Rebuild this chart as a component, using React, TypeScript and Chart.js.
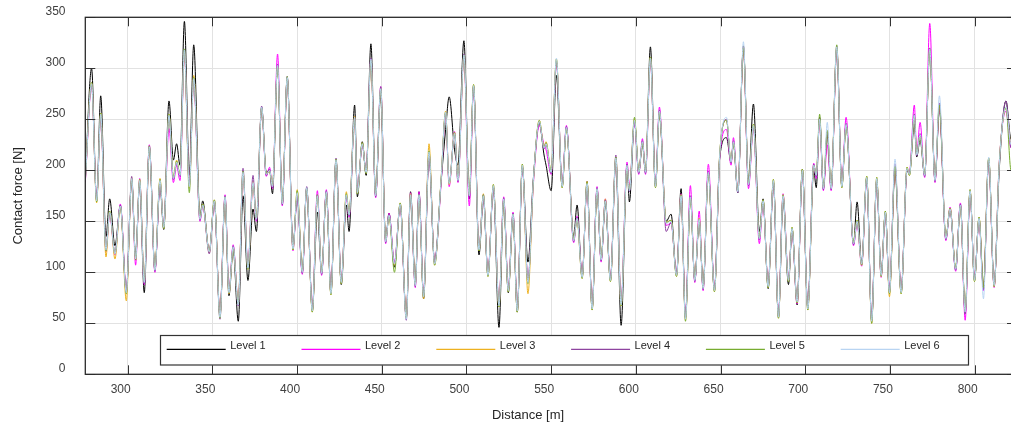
import { useEffect, useRef } from 'react';
import { Chart, registerables } from 'chart.js';

Chart.register(...registerables);

const DISTANCE = [
  275, 278.7, 281.7, 284.1, 287.2, 289.4, 292.5, 295.7, 299.2, 302.4,
  304.7, 307.1, 309.8, 312.8, 316.1, 319.1, 321.3, 324.4, 327, 328.9,
  330.9, 333.5, 336.4, 339, 342.7, 344.3, 348.2, 351.2, 354.5, 357.5,
  359.8, 362.3, 365.3, 368.1, 371, 374, 376, 379.1, 381.8, 383.8,
  385.5, 388.5, 391.3, 394.2, 397.6, 400.1, 403.1, 405.7, 409, 412,
  414.5, 417.3, 420, 423, 426.1, 429.1, 430.7, 434, 435.6, 438.5,
  440.8, 443.6, 446.4, 449.4, 452.3, 454.3, 457.5, 460.9, 464.5, 467,
  469.8, 472, 474.7, 477.9, 481.2, 485, 487.7, 489.8, 493, 495,
  498.5, 501.7, 504.2, 507.4, 510, 512.7, 515.9, 519.2, 522, 524.7,
  527.5, 530, 533, 536.3, 539.5, 543, 545.8, 547, 550, 553.1,
  556.5, 559, 563.3, 565.3, 568.3, 571.2, 574.2, 577.1, 579.5, 582,
  585, 588.2, 591.3, 594.8, 596.2, 599.2, 601.7, 603.9, 605.7, 608.6,
  611.6, 613.9, 617.9, 620.8, 624, 626.7, 629.3, 632.2, 634.8, 637.4,
  639.7, 642.8, 646.4, 649.5, 653.5, 656.2, 657.6, 660.2, 663.5, 666.5,
  669.4, 672.9, 675.1, 678.1, 681.2, 684.2, 686.9, 690.1, 692.2, 695.2,
  698.3, 701.5, 705, 706.5, 708.5, 710.7, 713, 715.3, 718.6, 721.6,
  724.1, 728.5, 730.6, 733.3, 736.3, 739.2, 742.2, 744.8, 747.3, 749.7,
  753, 756.6, 760.1, 761.5, 764.4, 765.8, 767.8, 770.5, 773.5, 776.6,
  779.2, 783, 785.5, 788.8, 791.6, 794.4, 797.3, 799.9, 802.6, 805.2,
  808.3, 811.5, 814.5, 818.5, 821.5, 825,
];

const LEVEL_1 = [
  192, 300, 170, 273, 135, 172, 126, 165, 80, 190,
  115, 188, 80, 222, 102, 185, 142, 268, 210, 226,
  205, 346, 195, 323, 155, 170, 120, 170, 58, 172,
  77, 122, 52, 175, 92, 162, 140, 262, 198, 200,
  177, 303, 167, 291, 125, 175, 100, 183, 62, 159,
  99, 179, 79, 210, 88, 166, 140, 264, 174, 228,
  195, 324, 175, 274, 132, 158, 105, 167, 56, 179,
  90, 179, 74, 215, 110, 188, 240, 272, 220, 205,
  327, 172, 283, 117, 172, 97, 183, 46, 170, 80,
  155, 61, 203, 110, 192, 246, 215, 205, 180, 293,
  184, 242, 135, 166, 95, 189, 64, 182, 112, 168,
  92, 210, 48, 205, 169, 248, 198, 225, 198, 321,
  184, 255, 150, 157, 97, 182, 56, 174, 92, 150,
  86, 198, 82, 212, 232, 208, 226, 178, 322, 189,
  265, 140, 172, 84, 188, 56, 172, 88, 143, 68,
  201, 66, 200, 183, 252, 182, 235, 182, 318, 184,
  245, 128, 169, 108, 193, 52, 190, 97, 159, 80,
  200, 80, 200, 196, 245, 213, 230, 195, 319, 190,
  260, 133, 162, 103, 166, 60, 180, 92, 153, 84,
  211, 87, 200, 268, 230, 245,
];

const LEVEL_2 = [
  188, 283, 172, 252, 120, 157, 117, 167, 82, 190,
  107, 192, 88, 225, 100, 188, 146, 241, 188, 205,
  190, 315, 186, 288, 150, 165, 121, 168, 58, 176,
  82, 127, 70, 196, 106, 186, 150, 260, 194, 203,
  182, 314, 165, 290, 121, 176, 98, 181, 64, 180,
  97, 181, 81, 208, 92, 174, 154, 250, 180, 224,
  200, 309, 173, 282, 128, 158, 110, 165, 56, 178,
  85, 179, 78, 216, 110, 186, 255, 184, 238, 188,
  311, 165, 281, 123, 173, 99, 183, 69, 174, 84,
  159, 64, 203, 92, 186, 244, 225, 220, 196, 306,
  186, 244, 129, 155, 97, 185, 66, 184, 110, 172,
  94, 210, 71, 208, 185, 247, 196, 231, 196, 308,
  186, 262, 146, 148, 99, 177, 56, 185, 90, 160,
  82, 206, 84, 212, 240, 205, 232, 181, 320, 182,
  242, 128, 168, 88, 188, 58, 177, 94, 141, 69,
  198, 66, 207, 192, 248, 180, 225, 180, 319, 186,
  252, 126, 148, 106, 191, 54, 190, 95, 157, 82,
  203, 82, 200, 198, 264, 217, 247, 193, 344, 188,
  262, 131, 164, 101, 168, 53, 178, 94, 151, 82,
  209, 85, 207, 258, 222, 236,
];

const LEVEL_3 = [
  191, 286, 168, 256, 115, 160, 113, 164, 72, 193,
  112, 191, 91, 222, 103, 192, 143, 255, 194, 210,
  196, 316, 183, 293, 153, 167, 119, 171, 57, 173,
  79, 124, 71, 199, 103, 189, 153, 261, 197, 199,
  185, 302, 168, 290, 122, 181, 101, 182, 61, 174,
  100, 178, 78, 209, 89, 179, 157, 253, 177, 227,
  197, 307, 176, 279, 131, 155, 107, 168, 55, 177,
  88, 175, 74, 226, 107, 191, 258, 186, 237, 191,
  312, 176, 284, 121, 177, 96, 186, 66, 171, 81,
  156, 61, 206, 79, 189, 249, 223, 228, 199, 309,
  183, 241, 132, 152, 94, 189, 63, 181, 113, 172,
  91, 213, 67, 204, 181, 250, 199, 227, 199, 311,
  183, 257, 149, 151, 96, 176, 53, 173, 93, 153,
  85, 197, 81, 216, 249, 209, 227, 180, 321, 187,
  245, 134, 171, 85, 191, 55, 176, 91, 144, 70,
  201, 63, 204, 196, 249, 183, 239, 183, 320, 183,
  244, 129, 151, 107, 194, 50, 193, 96, 160, 76,
  204, 79, 203, 195, 253, 216, 234, 196, 318, 191,
  264, 134, 163, 104, 165, 62, 181, 91, 154, 85,
  212, 86, 206, 261, 226, 241,
];

const LEVEL_4 = [
  189, 284, 171, 254, 123, 158, 119, 166, 81, 194,
  114, 189, 89, 224, 101, 189, 145, 253, 191, 207,
  194, 317, 185, 289, 151, 166, 118, 169, 54, 175,
  81, 126, 67, 202, 105, 195, 151, 263, 195, 201,
  183, 304, 166, 292, 124, 174, 99, 184, 63, 176,
  98, 180, 80, 212, 91, 175, 155, 251, 179, 225,
  199, 310, 174, 282, 129, 157, 109, 166, 53, 175,
  86, 177, 77, 217, 109, 189, 256, 188, 235, 189,
  314, 174, 282, 122, 176, 98, 184, 68, 173, 83,
  158, 63, 204, 91, 191, 247, 221, 225, 197, 307,
  185, 243, 130, 154, 96, 186, 65, 183, 111, 171,
  93, 215, 69, 206, 179, 248, 197, 229, 197, 309,
  185, 259, 140, 149, 98, 174, 55, 175, 91, 152,
  83, 199, 83, 214, 250, 207, 229, 178, 321, 185,
  243, 132, 169, 87, 189, 57, 174, 93, 142, 72,
  199, 65, 206, 194, 251, 181, 238, 181, 322, 185,
  246, 127, 149, 109, 192, 53, 191, 98, 158, 81,
  206, 81, 201, 197, 255, 214, 236, 194, 320, 189,
  266, 132, 161, 102, 167, 59, 179, 93, 152, 83,
  210, 88, 204, 268, 222, 238,
];

const LEVEL_5 = [
  190, 286, 169, 256, 121, 160, 118, 165, 79, 191,
  112, 191, 91, 224, 103, 191, 143, 255, 193, 209,
  196, 319, 178, 291, 153, 167, 121, 171, 55, 174,
  80, 124, 69, 199, 103, 187, 153, 261, 197, 199,
  185, 302, 168, 292, 122, 180, 101, 182, 61, 176,
  100, 178, 78, 211, 89, 177, 157, 250, 177, 227,
  197, 308, 176, 280, 131, 155, 100, 168, 55, 176,
  88, 176, 76, 219, 107, 190, 257, 187, 237, 191,
  313, 176, 284, 121, 176, 96, 186, 66, 171, 81,
  157, 61, 206, 89, 189, 249, 223, 227, 199, 309,
  183, 241, 132, 152, 94, 188, 63, 181, 113, 170,
  91, 213, 67, 204, 181, 252, 199, 227, 199, 311,
  183, 257, 149, 151, 96, 176, 52, 173, 93, 152,
  85, 197, 81, 216, 249, 209, 227, 180, 320, 187,
  245, 134, 171, 85, 191, 55, 176, 91, 144, 70,
  201, 63, 205, 196, 255, 183, 239, 183, 323, 183,
  244, 129, 151, 107, 194, 50, 193, 96, 160, 79,
  204, 79, 203, 195, 253, 216, 234, 196, 319, 191,
  264, 134, 163, 104, 165, 62, 181, 91, 154, 85,
  212, 86, 206, 261, 200, 228,
];

const LEVEL_6 = [
  190, 285, 170, 255, 122, 159, 118, 165, 80, 192,
  113, 190, 90, 223, 102, 190, 144, 254, 192, 208,
  195, 318, 184, 290, 152, 166, 120, 170, 56, 174,
  80, 125, 68, 198, 104, 188, 152, 262, 196, 200,
  184, 303, 167, 291, 123, 178, 100, 183, 62, 175,
  99, 179, 79, 210, 90, 176, 156, 252, 178, 226,
  198, 309, 175, 280, 130, 156, 108, 167, 54, 176,
  87, 176, 76, 218, 108, 190, 257, 187, 236, 190,
  313, 175, 283, 122, 175, 97, 185, 67, 172, 82,
  157, 62, 205, 90, 190, 248, 222, 226, 198, 310,
  184, 242, 131, 153, 95, 187, 64, 182, 112, 170,
  92, 212, 68, 205, 180, 249, 198, 228, 198, 310,
  184, 258, 148, 150, 97, 175, 54, 174, 92, 152,
  84, 198, 82, 215, 252, 208, 228, 179, 326, 186,
  244, 133, 170, 86, 190, 56, 175, 92, 143, 71,
  200, 64, 205, 195, 250, 182, 247, 182, 321, 184,
  245, 128, 150, 108, 193, 52, 192, 97, 159, 80,
  211, 80, 202, 196, 254, 215, 235, 195, 319, 190,
  273, 133, 162, 103, 166, 61, 180, 92, 153, 74,
  213, 87, 205, 262, 225, 240,
];

const LEVEL_NAMES = ['Level 1', 'Level 2', 'Level 3', 'Level 4', 'Level 5', 'Level 6'];
const LEVEL_COLORS = ['#000000', '#FF00FF', '#EDB120', '#8E44A0', '#77AC30', '#B8D4F2'];
const X_TICKS = [300, 350, 400, 450, 500, 550, 600, 650, 700, 750, 800];
const Y_TICKS = [0, 50, 100, 150, 200, 250, 300, 350];
const X_TITLE = 'Distance [m]';
const Y_TITLE = 'Contact force [N]';

const FONT = '"Liberation Sans", Arial, Helvetica, sans-serif';

export default function App() {
  const ref = useRef<HTMLCanvasElement>(null);

  useEffect(() => {
    if (!ref.current) return;
    const series = [LEVEL_1, LEVEL_2, LEVEL_3, LEVEL_4, LEVEL_5, LEVEL_6];

    const decor = {
      id: 'decor',
      afterDraw(chart: any) {
        const { ctx, chartArea: a, scales } = chart;
        ctx.save();
        // inward ticks
        ctx.strokeStyle = '#333333';
        ctx.lineWidth = 1;
        ctx.beginPath();
        for (const v of X_TICKS) {
          const x = Math.round(scales.x.getPixelForValue(v)) + 0.5;
          ctx.moveTo(x, a.bottom);
          ctx.lineTo(x, a.bottom - 9);
          ctx.moveTo(x, a.top);
          ctx.lineTo(x, a.top + 9);
        }
        for (const v of Y_TICKS) {
          const y = Math.round(scales.y.getPixelForValue(v)) + 0.5;
          ctx.moveTo(a.left, y);
          ctx.lineTo(a.left + 10, y);
          ctx.moveTo(a.right, y);
          ctx.lineTo(a.right - 10, y);
        }
        ctx.stroke();
        // frame
        ctx.lineWidth = 1.3;
        ctx.strokeStyle = '#2b2b2b';
        ctx.strokeRect(a.left, a.top, a.right - a.left, a.bottom - a.top);

        // legend box
        const bx = 160.5, by = 335.5, bw = 808, bh = 29.5;
        ctx.fillStyle = '#ffffff';
        ctx.fillRect(bx, by, bw, bh);
        ctx.lineWidth = 1.2;
        ctx.strokeStyle = '#333333';
        ctx.strokeRect(bx, by, bw, bh);
        ctx.font = '11px ' + FONT;
        ctx.textBaseline = 'middle';
        ctx.textAlign = 'left';
        LEVEL_NAMES.forEach((name, i) => {
          const x0 = 166.7 + i * 134.8;
          ctx.beginPath();
          ctx.strokeStyle = LEVEL_COLORS[i];
          ctx.lineWidth = 1.2;
          ctx.moveTo(x0, 349.3);
          ctx.lineTo(x0 + 59, 349.3);
          ctx.stroke();
          ctx.fillStyle = '#262626';
          ctx.fillText(name, x0 + 63.5, 345.5);
        });

        // axis titles
        ctx.fillStyle = '#262626';
        ctx.font = '13px ' + FONT;
        ctx.textAlign = 'center';
        ctx.textBaseline = 'middle';
        ctx.fillText(X_TITLE, 528, 415);
        ctx.translate(18, (a.top + a.bottom) / 2);
        ctx.rotate(-Math.PI / 2);
        ctx.fillText(Y_TITLE, 0, 0);
        ctx.restore();
      },
    };

    const chart = new Chart(ref.current, {
      type: 'line',
      data: {
        datasets: series.map((vals, i) => ({
          label: LEVEL_NAMES[i],
          data: DISTANCE.map((x, j) => ({ x, y: vals[j] })),
          borderColor: LEVEL_COLORS[i],
          backgroundColor: LEVEL_COLORS[i],
          borderWidth: 1,
          pointRadius: 0,
          fill: false,
          cubicInterpolationMode: 'monotone' as const,
          order: 5 - i,
        })),
      },
      options: {
        responsive: false,
        animation: false,
        events: [],
        layout: { padding: { left: 0, top: 17.3, right: 8, bottom: 0 } },
        plugins: {
          legend: { display: false },
          tooltip: { enabled: false },
          title: { display: false },
        },
        scales: {
          x: {
            type: 'linear',
            min: 275,
            max: 825,
            afterBuildTicks: (s: any) => {
              s.ticks = X_TICKS.map((v) => ({ value: v }));
            },
            afterFit: (s: any) => {
              s.height = 52.7;
              s.paddingLeft = 0;
              s.paddingRight = 0;
            },
            grid: { color: '#e2e2e2', drawTicks: false, lineWidth: 1 },
            border: { display: false },
            ticks: {
              autoSkip: false,
              maxRotation: 0,
              padding: 8.5,
              labelOffset: -7,
              color: '#404040',
              font: { family: FONT, size: 12 },
            },
          },
          y: {
            type: 'linear',
            min: 0,
            max: 350,
            afterBuildTicks: (s: any) => {
              s.ticks = Y_TICKS.map((v) => ({ value: v }));
            },
            afterFit: (s: any) => {
              s.width = 85.3;
              s.paddingTop = 0;
              s.paddingBottom = 0;
            },
            grid: { color: '#e2e2e2', drawTicks: false, lineWidth: 1 },
            border: { display: false },
            ticks: {
              padding: 19.8,
              labelOffset: -5.3,
              color: '#404040',
              font: { family: FONT, size: 12 },
            },
          },
        },
      },
      plugins: [decor],
    });

    return () => chart.destroy();
  }, []);

  return (
    <div
      style={{
        position: 'fixed',
        left: 0,
        top: 0,
        width: 1011,
        height: 427,
        overflow: 'hidden',
        background: '#ffffff',
      }}
    >
      <canvas ref={ref} width={1025} height={427} style={{ display: 'block', width: 1025, height: 427 }} />
    </div>
  );
}
